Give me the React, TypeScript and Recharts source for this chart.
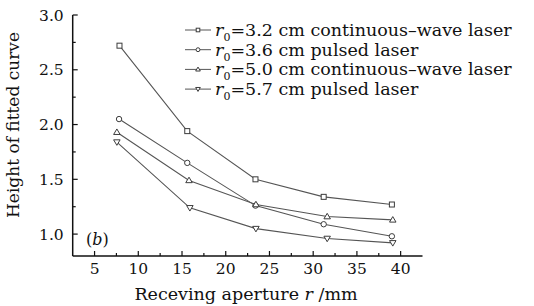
import React from 'react';
import { LineChart, Line, XAxis, YAxis, Legend } from 'recharts';

// receiving aperture (mm) and fitted-curve height for each r0
const xSquare = [7.85, 15.6, 23.4, 31.2, 39.0];
const ySquare = [2.72, 1.94, 1.5, 1.34, 1.27];
const xCircle = [7.8, 15.6, 23.4, 31.2, 39.0];
const yCircle = [2.05, 1.65, 1.26, 1.09, 0.98];
const xTriangle = [7.55, 15.8, 23.45, 31.6, 39.1];
const yTriangle = [1.93, 1.49, 1.27, 1.16, 1.13];
const xInverted = [7.55, 15.9, 23.45, 31.6, 39.1];
const yInverted = [1.84, 1.24, 1.05, 0.96, 0.92];

const seriesR0 = ['3.2', '3.6', '5.0', '5.7'];
const seriesKind = ['continuous–wave laser', 'pulsed laser', 'continuous–wave laser', 'pulsed laser'];
const seriesShape = ['square', 'circle', 'triangle', 'inverted'];

const xTicks = [5, 7.5, 10, 12.5, 15, 17.5, 20, 22.5, 25, 27.5, 30, 32.5, 35, 37.5, 40];
const yTicks = [1, 1.25, 1.5, 1.75, 2, 2.25, 2.5, 2.75, 3];

const FONT = '"DejaVu Serif", serif';
const INK = '#111';
const LINE = '#555';

const toPoints = (xs: number[], ys: number[]) => xs.map((x, i) => ({ x, y: ys[i] }));

const series = [
  toPoints(xSquare, ySquare),
  toPoints(xCircle, yCircle),
  toPoints(xTriangle, yTriangle),
  toPoints(xInverted, yInverted),
];

const Marker = ({ shape, cx, cy, s }: { shape: string; cx: number; cy: number; s: number }) => {
  const common = { fill: '#fff', stroke: '#3c3c3c', strokeWidth: 1 };
  if (shape === 'square') return <rect x={cx - s} y={cy - s} width={2 * s} height={2 * s} {...common} />;
  if (shape === 'circle') return <circle cx={cx} cy={cy} r={s * 1.08} {...common} />;
  if (shape === 'triangle')
    return <polygon points={`${cx},${cy - s * 1.3} ${cx - s * 1.3},${cy + s * 0.9} ${cx + s * 1.3},${cy + s * 0.9}`} {...common} />;
  return <polygon points={`${cx},${cy + s * 1.3} ${cx - s * 1.3},${cy - s * 0.9} ${cx + s * 1.3},${cy - s * 0.9}`} {...common} />;
};

const XTick = (props: any) => {
  const { x, y, payload } = props;
  const major = payload.value % 5 === 0;
  return (
    <g>
      <line x1={x} x2={x} y1={y} y2={y - (major ? 5 : 3)} stroke={INK} strokeWidth={1.2} />
      {major && (
        <text x={x} y={y + 17.5} textAnchor="middle" fontFamily={FONT} fontSize={15.5} fill={INK}>
          {payload.value}
        </text>
      )}
    </g>
  );
};

const YTick = (props: any) => {
  const { x, y, payload } = props;
  const major = Math.round(payload.value * 100) % 50 === 0;
  return (
    <g>
      <line x1={x} x2={x + (major ? 5 : 3)} y1={y} y2={y} stroke={INK} strokeWidth={1.2} />
      {major && (
        <text x={x - 9} y={y + 5.5} textAnchor="end" fontFamily={FONT} fontSize={15.5} fill={INK}>
          {payload.value.toFixed(1)}
        </text>
      )}
    </g>
  );
};

const XTitle = () => (
  <text x={246} y={300} textAnchor="middle" fontFamily={FONT} fontSize={17.5} fill={INK}>
    Receving aperture <tspan fontStyle="italic">r</tspan> /mm
  </text>
);

const YTitle = () => (
  <text
    x={0}
    y={0}
    transform="translate(19,125) rotate(-90)"
    textAnchor="middle"
    fontFamily={FONT}
    fontSize={17}
    fill={INK}
  >
    Height of fitted curve
  </text>
);

const LegendBox = () => (
  <svg width={350} height={92}>
    {seriesR0.map((r0, i) => {
      const cy = 14 + i * 19.7;
      return (
        <g key={r0 + i}>
          <line x1={3} x2={29} y1={cy} y2={cy} stroke={LINE} strokeWidth={1} />
          <Marker shape={seriesShape[i]} cx={16} cy={cy} s={1.8} />
          <text x={33} y={cy + 6} fontFamily={FONT} fontSize={17.5} fill={INK}>
            <tspan fontStyle="italic">r</tspan>
            <tspan fontSize={11} dy={5}>0</tspan>
            <tspan dy={-5}>={r0} cm {seriesKind[i]}</tspan>
          </text>
        </g>
      );
    })}
  </svg>
);

export default function App() {
  return (
    <div style={{ position: 'absolute', left: 0, top: 0, width: 534, height: 306, background: '#fff' }}>
      <LineChart width={534} height={306} margin={{ top: 15, right: 111.5, bottom: 0, left: 0 }}>
        <XAxis
          type="number"
          dataKey="x"
          domain={[2.5, 42.5]}
          ticks={xTicks}
          interval={0}
          height={50}
          tickSize={0}
          tickMargin={0}
          tickLine={false}
          tick={XTick}
          axisLine={{ stroke: INK, strokeWidth: 1.5 }}
          allowDataOverflow
          label={{ content: XTitle }}
        />
        <YAxis
          type="number"
          dataKey="y"
          domain={[0.8, 3]}
          ticks={yTicks}
          interval={0}
          width={72.7}
          tickSize={0}
          tickMargin={0}
          tickLine={false}
          tick={YTick}
          axisLine={{ stroke: INK, strokeWidth: 1.5 }}
          allowDataOverflow
          label={{ content: YTitle }}
        />
        <Legend
          layout="vertical"
          align="center"
          verticalAlign="middle"
          wrapperStyle={{ left: 182, top: 16, width: 350, height: 92 }}
          content={() => <LegendBox />}
        />
        {series.map((pts, i) => (
          <Line
            key={seriesShape[i]}
            data={pts}
            dataKey="y"
            type="linear"
            stroke={LINE}
            strokeWidth={1.1}
            isAnimationActive={false}
            dot={(p: any) => <Marker key={`${seriesShape[i]}-${p.index}`} shape={seriesShape[i]} cx={p.cx} cy={p.cy} s={2.5} />}
            activeDot={false}
          />
        ))}
      </LineChart>
      <div
        style={{
          position: 'absolute',
          left: 86,
          top: 232,
          fontFamily: FONT,
          fontSize: 16,
          lineHeight: '16px',
          color: INK,
          pointerEvents: 'none',
        }}
      >
        (<i>b</i>)
      </div>
    </div>
  );
}
